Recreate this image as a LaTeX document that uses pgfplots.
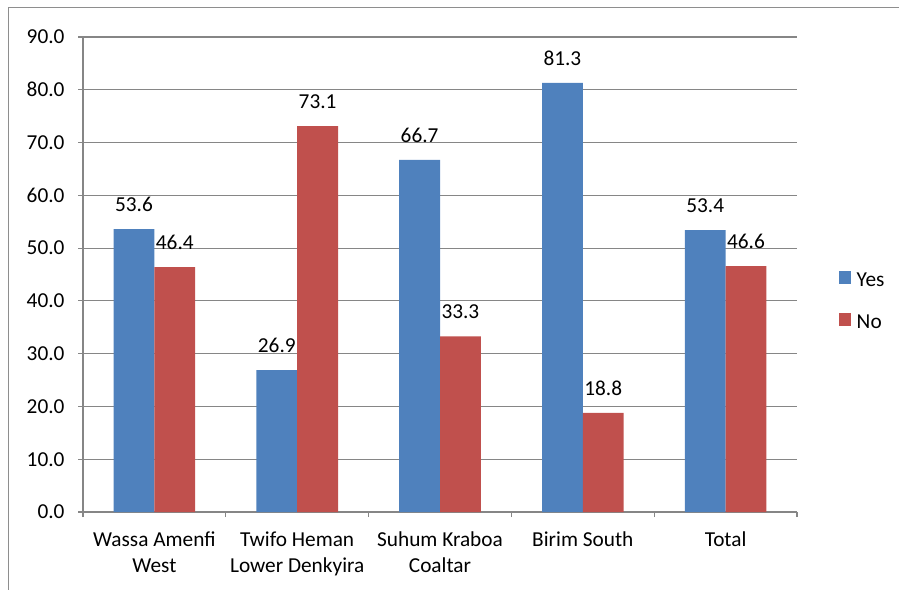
\documentclass[border=0pt]{standalone}
\usepackage{fontspec}
\setmainfont{Carlito}
\usepackage{pgfplots}
\pgfplotsset{compat=1.18}
\definecolor{barblue}{HTML}{4F81BD}
\definecolor{barred}{HTML}{C0504D}
\definecolor{gridgray}{HTML}{868686}
\definecolor{framegray}{HTML}{8E8E8E}
\newcommand{\chartfont}{\fontsize{21.3bp}{26bp}\selectfont}
\begin{document}
\begin{tikzpicture}
\useasboundingbox (0,0) rectangle (899bp,-590bp);
% chart frame
\draw[framegray, line width=1bp] (8.5bp,-590bp) -- (8.5bp,-7.5bp) -- (899bp,-7.5bp);
\begin{axis}[
  at={(83bp,-512bp)}, anchor=south west,
  width=714bp, height=475bp, scale only axis,
  xmin=-0.5, xmax=4.5, ymin=0, ymax=90,
  ybar=0pt, bar width=40.8bp,
  axis x line*=bottom, axis y line*=left,
  axis line style={gridgray, line width=1.2bp},
  ymajorgrids, grid style={gridgray, line width=1.2bp},
  tick align=outside, major tick length=5bp,
  tick style={gridgray, line width=1.2bp},
  ytick={0,10,...,90},
  xtick={-0.5,0.5,...,4.5},
  x tick label as interval,
  xticklabels={Wassa Amenfi\\West, Twifo Heman\\Lower Denkyira, Suhum Kraboa\\Coaltar, Birim South, Total},
  xticklabel style={font=\chartfont, align=center, text=black, yshift=-11bp},
  yticklabel style={font=\chartfont, text=black, xshift=-10bp},
  /pgf/number format/.cd, fixed, fixed zerofill, precision=1, assume math mode=true,
  /pgfplots/.cd,
  nodes near coords,
  nodes near coords style={font=\chartfont, text=black, inner sep=0pt, anchor=south, yshift=17bp},
  legend style={draw=none, fill=none, at={(1.054,0.444)}, anchor=west,
    font=\chartfont, row sep=23bp,
    /tikz/every odd column/.style={column sep=4bp}},
  legend cell align=left,
  legend image code/.code={\fill[#1] (0bp,-3.5bp) rectangle (12bp,9bp);},
]
\addplot[fill=barblue, draw=none] coordinates {(0,53.6) (1,26.9) (2,66.7) (3,81.3) (4,53.4)};
\addplot[fill=barred, draw=none] coordinates {(0,46.4) (1,73.1) (2,33.3) (3,18.8) (4,46.6)};
\legend{Yes,No}
\end{axis}
\end{tikzpicture}
\end{document}
